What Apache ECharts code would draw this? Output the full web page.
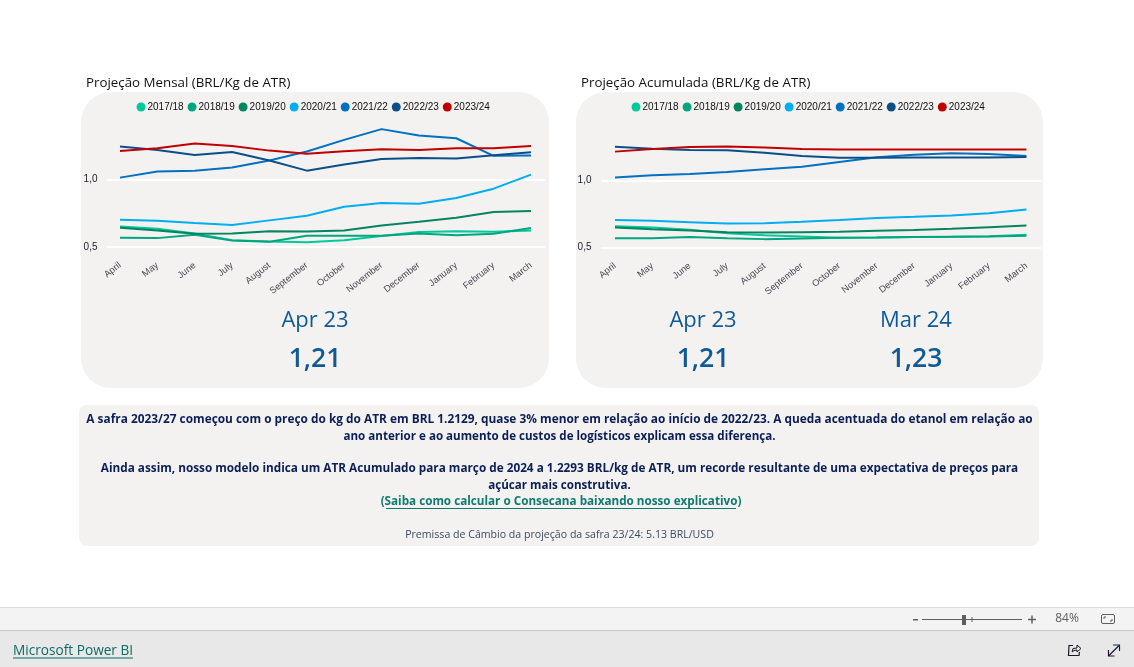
<!DOCTYPE html>
<html><head><meta charset="utf-8">
<style>html,body{margin:0;padding:0;background:#fff;overflow:hidden}#c{width:1134px;height:667px}</style>
<script src="https://cdn.jsdelivr.net/npm/echarts@6/dist/echarts.min.js"></script>
</head><body><div id="c"></div>
<script>
const months = ['April','May','June','July','August','September','October','November','December','January','February','March'];
const seasons = ['2017/18','2018/19','2019/20','2020/21','2021/22','2022/23','2023/24'];
const colors = ['#01C99A','#01A67E','#03855F','#00AEF0','#0070C0','#0A4F8A','#C00000'];
const yTicks = [0.5, 1.0];

const m1718 = [0.652,0.635,0.600,0.550,0.540,0.535,0.550,0.580,0.610,0.616,0.612,0.622];
const m1819 = [0.567,0.565,0.590,0.547,0.538,0.582,0.582,0.582,0.600,0.587,0.597,0.640];
const m1920 = [0.642,0.622,0.597,0.600,0.617,0.614,0.622,0.659,0.687,0.716,0.759,0.766];
const m2021 = [0.701,0.694,0.677,0.662,0.697,0.731,0.799,0.826,0.821,0.863,0.933,1.037];
const m2122 = [1.015,1.060,1.067,1.090,1.142,1.209,1.296,1.376,1.328,1.308,1.177,1.179];
const m2223 = [1.246,1.221,1.184,1.206,1.142,1.067,1.112,1.154,1.162,1.157,1.182,1.204];
const m2324 = [1.213,1.234,1.269,1.251,1.216,1.192,1.211,1.226,1.221,1.234,1.234,1.251];

const a1718 = [0.658,0.648,0.631,0.606,0.591,0.582,0.572,0.574,0.577,0.579,0.584,0.594];
const a1819 = [0.569,0.569,0.577,0.569,0.562,0.567,0.572,0.574,0.577,0.579,0.582,0.587];
const a1920 = [0.649,0.636,0.626,0.614,0.611,0.614,0.616,0.624,0.629,0.639,0.651,0.663];
const a2021 = [0.705,0.698,0.688,0.678,0.681,0.691,0.705,0.720,0.728,0.738,0.755,0.782];
const a2122 = [1.020,1.037,1.047,1.062,1.082,1.101,1.136,1.171,1.190,1.200,1.196,1.180];
const a2223 = [1.250,1.235,1.225,1.223,1.205,1.180,1.168,1.168,1.170,1.170,1.170,1.173];
const a2324 = [1.213,1.232,1.247,1.252,1.243,1.232,1.229,1.229,1.229,1.229,1.229,1.229];

const monthly = [m1718,m1819,m1920,m2021,m2122,m2223,m2324];
const accumulated = [a1718,a1819,a1920,a2021,a2122,a2223,a2324];

const SEGOE = '"Open Sans","Noto Sans",sans-serif';
const ARIAL = '"Liberation Sans",Arial,sans-serif';

function T(x,y,text,font,fill,align){return {type:'text',x,y,silent:true,style:{text,font,fill,align:align||'center',verticalAlign:'middle'}};}
function R(x,y,w,h,fill,r){return {type:'rect',silent:true,shape:{x,y,width:w,height:h,r:r||0},style:{fill}};}
function L(x1,y1,x2,y2,stroke,w){return {type:'line',silent:true,shape:{x1,y1,x2,y2},style:{stroke,lineWidth:w||1}};}

const navy='#0B1F56', big='#0F5A96', link='#107A70';
const B=s=>'bold '+s+'px '+SEGOE;
const hFont='500 22px '+SEGOE, numFont='600 26.5px '+SEGOE;
const graphics=[
 R(81,92,468,296,'#F3F2F1',30), R(576,92,467,296,'#F3F2F1',30), R(79,405,960,141,'#F3F2F1',8),
 T(86,83,'Projeção Mensal (BRL/Kg de ATR)','13.33px '+SEGOE,'#111','left'),
 T(581,83,'Projeção Acumulada (BRL/Kg de ATR)','13.33px '+SEGOE,'#111','left'),
 T(315,321,'Apr 23',hFont,big), T(315,359,'1,21',numFont,big),
 T(703,321,'Apr 23',hFont,big), T(703,359,'1,21',numFont,big),
 T(916,321,'Mar 24',hFont,big), T(916,359,'1,23',numFont,big),
 T(559.5,420,'A safra 2023/27 começou com o preço do kg do ATR em BRL 1.2129, quase 3% menor em relação ao início de 2022/23. A queda acentuada do etanol em relação ao',B(11.86),navy),
 T(559.5,437,'ano anterior e ao aumento de custos de logísticos explicam essa diferença.',B(11.6),navy),
 T(559.5,469,'Ainda assim, nosso modelo indica um ATR Acumulado para março de 2024 a 1.2293 BRL/kg de ATR, um recorde resultante de uma expectativa de preços para',B(11.77),navy),
 T(559.5,485.5,'açúcar mais construtiva.',B(11.6),navy),
 T(561,502,'(Saiba como calcular o Consecana baixando nosso explicativo)',B(11.7),link),
 L(386,508.5,736,508.5,link,1),
 T(559.5,534.5,'Premissa de Câmbio da projeção da safra 23/24: 5.13 BRL/USD','10.6px '+SEGOE,'#3A4A63'),
 R(0,607,1134,1,'#DDDDDD'), R(0,608,1134,22,'#F3F3F3'), R(0,630,1134,1,'#C8C8C8'), R(0,631,1134,36,'#E8E8E8'),
 T(13,651.5,'Microsoft Power BI','13.65px '+SEGOE,'#0F6A62','left'), L(13,658,133,658,'#0F6A62',1),
 R(913,619,5,1.5,'#605E5C'), L(922,619.5,1022,619.5,'#605E5C',1), R(962,615,4,10,'#605E5C'), L(972,617,972,622,'#605E5C',1),
 L(1028,619.5,1036,619.5,'#605E5C',1.5), L(1032,615.5,1032,623.5,'#605E5C',1.5),
 T(1067,619,'84%','12px '+SEGOE,'#605E5C'),
 {type:'rect',silent:true,shape:{x:1101.5,y:614.5,width:13,height:9,r:1.5},style:{fill:'none',stroke:'#605E5C',lineWidth:1}},
 {type:'polyline',silent:true,shape:{points:[[1104,619],[1104,617],[1106,617]]},style:{fill:'none',stroke:'#605E5C'}},
 {type:'polyline',silent:true,shape:{points:[[1112,619],[1112,621],[1110,621]]},style:{fill:'none',stroke:'#605E5C'}},
 {type:'polyline',silent:true,shape:{points:[[1073,645.5],[1069,645.5],[1068.5,655.5],[1079,655.5],[1079.5,652]]},style:{fill:'none',stroke:'#1A1A2A',lineWidth:1.2}},
 {type:'polyline',silent:true,shape:{points:[[1072,652],[1073,648.5],[1077,648],[1077,645],[1081,648.5],[1077,652],[1077,650],[1074,650.5],[1072,652]]},style:{fill:'none',stroke:'#1A1A2A',lineWidth:1}},
 {type:'polyline',silent:true,shape:{points:[[1108.5,650],[1108.5,656],[1114.5,656]]},style:{fill:'none',stroke:'#2A0A3A',lineWidth:1.2}},
 {type:'polyline',silent:true,shape:{points:[[1113,645],[1119.5,645],[1119.5,651]]},style:{fill:'none',stroke:'#0A2A4A',lineWidth:1.2}},
 L(1109,655.5,1119,645.5,'#1A1A3A',1.2)
];

function xAxis(idx,min,max){return {type:'value',gridIndex:idx,min,max,
  axisLine:{show:false},axisTick:{show:false,customValues:months.map((_,i)=>i)},splitLine:{show:false},
  axisLabel:{customValues:months.map((_,i)=>i),formatter:v=>months[v],rotate:38,fontSize:9.3,fontFamily:ARIAL,color:'#4A4550',margin:4,hideOverlap:false}};}
function yAxis(idx){return {type:'value',gridIndex:idx,min:0.4,max:1.42,
  axisLine:{show:false},axisTick:{show:false,customValues:yTicks},
  splitLine:{show:true,lineStyle:{color:'#FFFFFF',width:2}},
  axisLabel:{customValues:yTicks,formatter:v=>v.toFixed(1).replace('.',','),fontSize:10,fontFamily:ARIAL,color:'#1F1F2A',margin:9.5,padding:[2,0,0,0]}};}
function legend(idx,left){return {left,top:97,orient:'horizontal',data:seasons,icon:'circle',itemWidth:9,itemHeight:9,itemGap:3.9,
  selectedMode:false,textStyle:{fontSize:10,fontFamily:ARIAL,color:'#111',padding:[0,0,0,-3]}};}
function makeSeries(rows,idx){return rows.map((vals,i)=>({name:seasons[i],type:'line',xAxisIndex:idx,yAxisIndex:idx,
  data:vals.map((v,k)=>[k,v]),symbol:'none',smooth:false,lineStyle:{width:2,color:colors[i]},itemStyle:{color:colors[i]},z:2+i}));}

const chart=echarts.init(document.getElementById('c'));
chart.setOption({
 animation:false,backgroundColor:'#fff',color:colors,
 graphic:{elements:graphics},
 legend:[legend(0,131.5),legend(1,626.5)],
 grid:[
  {left:107,top:123.2,width:438,height:137.1,show:true,backgroundColor:'#F1F1F1',borderWidth:0},
  {left:601,top:123.8,width:440,height:137.1,show:true,backgroundColor:'#F1F1F1',borderWidth:0}
 ],
 xAxis:[xAxis(0,-0.348,11.375),xAxis(1,-0.374,11.39)],
 yAxis:[yAxis(0),yAxis(1)],
 series:[...makeSeries(monthly,0),...makeSeries(accumulated,1)]
});
</script></body></html>
